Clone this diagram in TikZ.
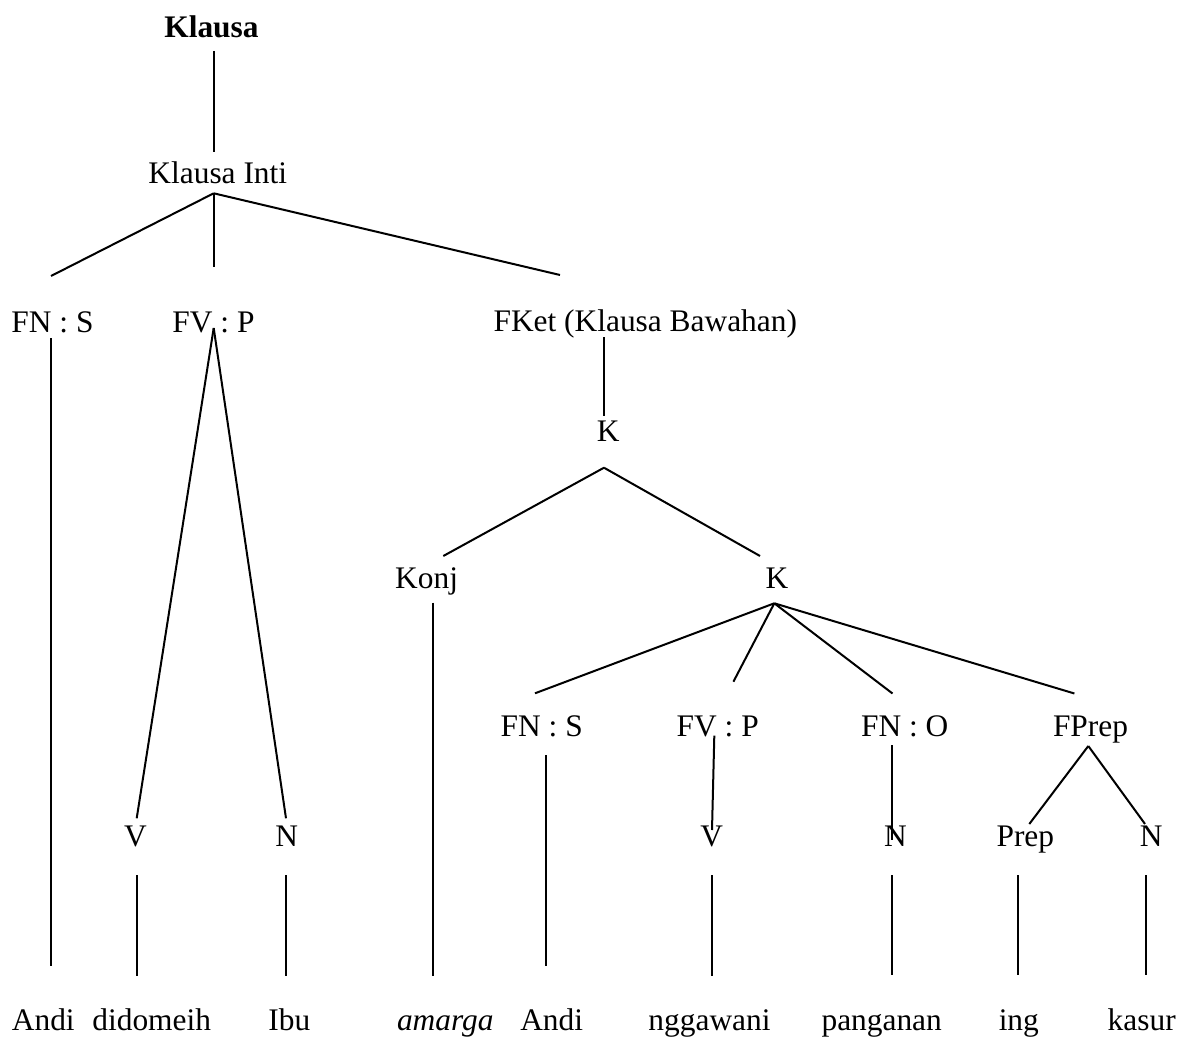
\documentclass[tikz,border=0pt]{standalone}
\usepackage{fontspec}
\setmainfont{Liberation Serif}
\begin{document}
\begin{tikzpicture}[x=0.5pt,y=-0.5pt,
  lbl/.style={anchor=base,inner sep=0pt,font=\fontsize{15.7pt}{18pt}\selectfont},
  edge/.style={line width=1pt,line cap=butt}]
\useasboundingbox (0,0) rectangle (1181,1037);

% ---- labels ----
\node[lbl,font=\fontsize{15.7pt}{18pt}\selectfont\bfseries] (klausa) at (211.5,38) {Klausa};
\node[lbl] (inti)  at (217.8,184) {Klausa Inti};
\node[lbl] (fns1)  at (52.5,332)  {FN : S};
\node[lbl] (fvp1)  at (213.5,332) {FV : P};
\node[lbl] (fket)  at (645.3,331.7) {FKet (Klausa Bawahan)};
\node[lbl] (k1)    at (608.3,441.7) {K};
\node[lbl] (konj)  at (426.6,588.3) {Konj};
\node[lbl] (k2)    at (777,588)   {K};
\node[lbl] (fns2)  at (541.7,736) {FN : S};
\node[lbl] (fvp2)  at (717.7,736) {FV : P};
\node[lbl] (fno)   at (904.7,736) {FN : O};
\node[lbl] (fprep) at (1090.5,736) {FPrep};
\node[lbl] (v1)    at (135.5,846) {V};
\node[lbl] (n1)    at (286.8,846) {N};
\node[lbl] (v2)    at (711.7,846) {V};
\node[lbl] (n2)    at (895.5,846) {N};
\node[lbl] (prep)  at (1025.3,846) {Prep};
\node[lbl] (n3)    at (1151.2,846) {N};
\node[lbl] (w1) at (43.3,1030)  {Andi};
\node[lbl] (w2) at (151.7,1030) {didomeih};
\node[lbl] (w3) at (289.3,1030) {Ibu};
\node[lbl] (w4) at (445.3,1030) {\itshape amarga};
\node[lbl] (w5) at (551.7,1030) {Andi};
\node[lbl] (w6) at (709.5,1030) {nggawani};
\node[lbl] (w7) at (881.7,1030) {panganan};
\node[lbl] (w8) at (1018.8,1030) {ing};
\node[lbl] (w9) at (1141.7,1030) {kasur};

% ---- branch end points ----
\coordinate (klausa-b) at (213.7,51);
\coordinate (inti-t)   at (213.7,152);
\coordinate (inti-b)   at (213.7,193.3);
\coordinate (fns1-t)   at (51,276);
\coordinate (fvp1-t)   at (213.7,267);
\coordinate (fket-t)   at (560,275);
\coordinate (fns1-b)   at (51,338);
\coordinate (w1-t)     at (51,966);
\coordinate (fvp1-b)   at (213.7,328);
\coordinate (v1-t)     at (136.7,818.3);
\coordinate (n1-t)     at (286,818.3);
\coordinate (v1-b)     at (137.3,875);
\coordinate (w2-t)     at (137.3,976);
\coordinate (n1-b)     at (285.5,875);
\coordinate (w3-t)     at (285.5,976);
\coordinate (fket-b)   at (604,337);
\coordinate (k1-t)     at (604,416);
\coordinate (k1-b)     at (604,467.7);
\coordinate (konj-t)   at (443.3,556);
\coordinate (k2-t)     at (760,556);
\coordinate (konj-b)   at (433.3,602.7);
\coordinate (w4-t)     at (433.3,975.5);
\coordinate (k2-b)     at (774.3,603.3);
\coordinate (fns2-t)   at (535,693.3);
\coordinate (fvp2-t)   at (733.4,681.7);
\coordinate (fno-t)    at (892.5,693.5);
\coordinate (fprep-t)  at (1074.4,693.5);
\coordinate (fns2-b)   at (545.7,755);
\coordinate (w5-t)     at (545.7,965.7);
\coordinate (fvp2-b)   at (714.3,735.7);
\coordinate (v2-t)     at (712,830);
\coordinate (v2-b)     at (712,875);
\coordinate (w6-t)     at (712,975.5);
\coordinate (fno-b)    at (892,745);
\coordinate (n2-t)     at (892,840);
\coordinate (n2-b)     at (892,875);
\coordinate (w7-t)     at (892,975);
\coordinate (fprep-b)  at (1088.3,746);
\coordinate (prep-t)   at (1029.3,824);
\coordinate (n3-t)     at (1145,824);
\coordinate (prep-b)   at (1018,875);
\coordinate (w8-t)     at (1018,975);
\coordinate (n3-b)     at (1146,875);
\coordinate (w9-t)     at (1146,975);

% ---- branches ----
\draw[edge] (klausa-b) -- (inti-t);
\draw[edge] (inti-b) -- (fns1-t);
\draw[edge] (inti-b) -- (fvp1-t);
\draw[edge] (inti-b) -- (fket-t);
\draw[edge] (fns1-b) -- (w1-t);
\draw[edge] (fvp1-b) -- (v1-t);
\draw[edge] (fvp1-b) -- (n1-t);
\draw[edge] (v1-b) -- (w2-t);
\draw[edge] (n1-b) -- (w3-t);
\draw[edge] (fket-b) -- (k1-t);
\draw[edge] (k1-b) -- (konj-t);
\draw[edge] (k1-b) -- (k2-t);
\draw[edge] (konj-b) -- (w4-t);
\draw[edge] (k2-b) -- (fns2-t);
\draw[edge] (k2-b) -- (fvp2-t);
\draw[edge] (k2-b) -- (fno-t);
\draw[edge] (k2-b) -- (fprep-t);
\draw[edge] (fns2-b) -- (w5-t);
\draw[edge] (fvp2-b) -- (v2-t);
\draw[edge] (v2-b) -- (w6-t);
\draw[edge] (fno-b) -- (n2-t);
\draw[edge] (n2-b) -- (w7-t);
\draw[edge] (fprep-b) -- (prep-t);
\draw[edge] (fprep-b) -- (n3-t);
\draw[edge] (prep-b) -- (w8-t);
\draw[edge] (n3-b) -- (w9-t);
\end{tikzpicture}
\end{document}
